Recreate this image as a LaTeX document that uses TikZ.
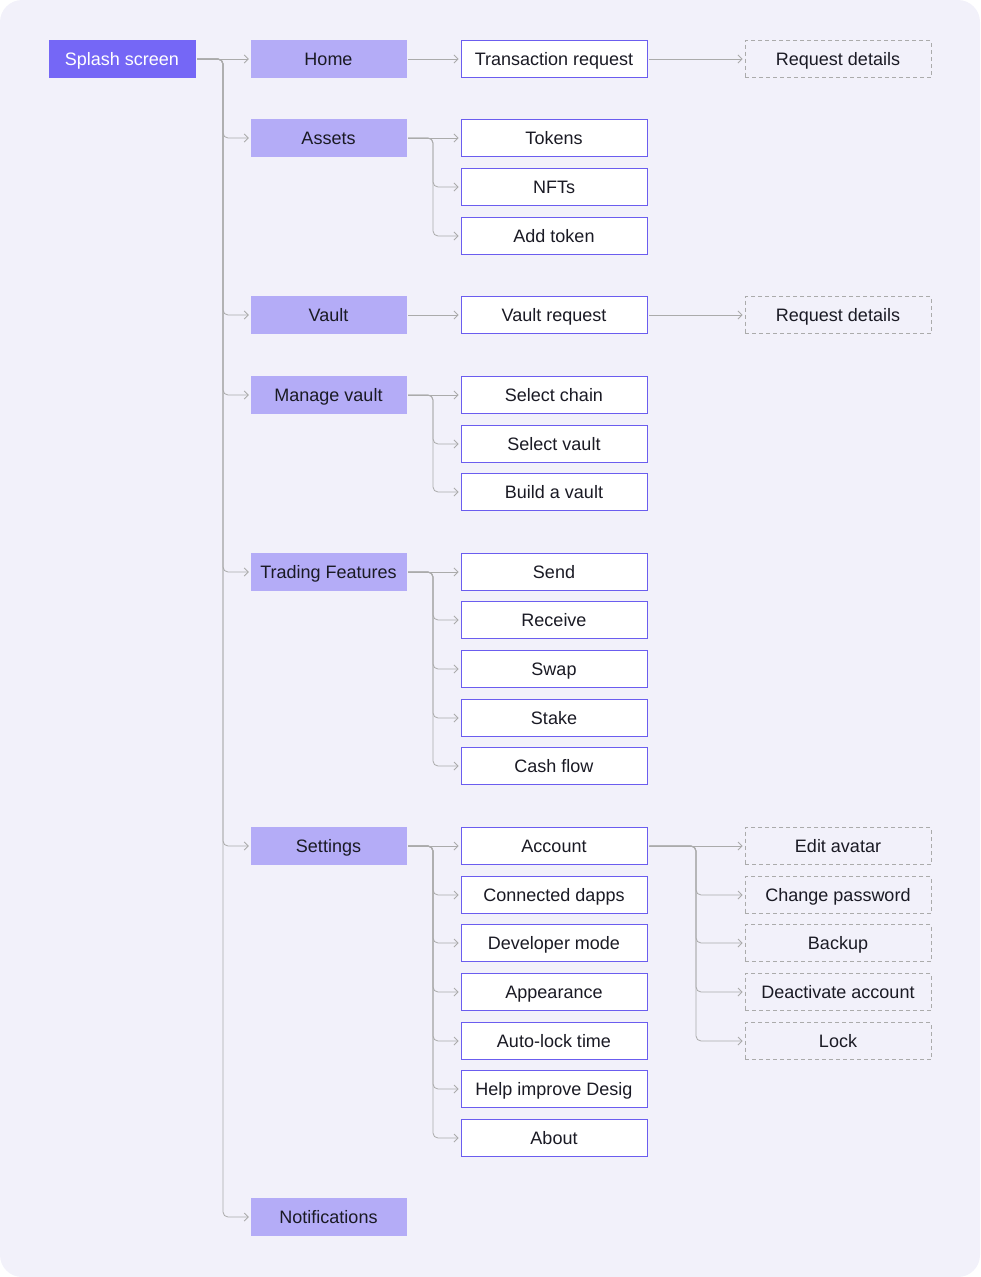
\documentclass[tikz,border=0pt]{standalone}
\usepackage{fontspec}
\setmainfont{Liberation Sans}
\usetikzlibrary{arrows.meta}
\definecolor{bg}{HTML}{F2F1FA}
\definecolor{splash}{HTML}{7567F6}
\definecolor{lone}{HTML}{B4ACF7}
\definecolor{bord}{HTML}{6B5DEF}
\definecolor{gline}{HTML}{ABABAB}
\definecolor{txt}{HTML}{1A1A24}
\begin{document}
\begin{tikzpicture}[x=1pt,y=-1pt,
  base/.style={minimum height=37pt,inner sep=0pt,text height=13pt,text depth=0pt,font=\fontsize{18}{21}\selectfont,text=txt},
  splashbox/.style={base,fill=splash,draw=splash,text=white,minimum width=146pt},
  onebox/.style={base,fill=lone,draw=lone,minimum width=155pt},
  twobox/.style={base,fill=white,draw=bord,line width=0.9pt,minimum width=186pt},
  threebox/.style={base,fill=bg,draw=gline,dash pattern=on 4pt off 3pt,line width=0.9pt,minimum width=186pt},
  conn/.style={draw=gline,line width=0.8pt,rounded corners=5pt,-{Straight Barb[length=4pt,width=8pt]},shorten >=2pt,shorten <=2pt}]
\useasboundingbox (0,0) rectangle (980,1277);
\fill[bg,rounded corners=22pt] (0,0) rectangle (980,1277);

\node[splashbox] (s) at (122,59) {Splash screen};
\foreach \n/\y/\t in {home/59/Home,assets/138/Assets,vault/315/Vault,manage/395/Manage vault,trading/572/Trading Features,settings/846/Settings,notif/1217/Notifications}{
  \node[onebox] (\n) at (328.5,\y) {\t};
  \ifnum\y=59\relax\draw[conn] (s.east) -- (\n.west);\else\draw[conn] (s.east) -- (223,59) |- (\n.west);\fi
}
\node[twobox] (tr) at (554,59) {Transaction request};
\draw[conn] (home.east) -- (tr.west);
\node[threebox] (rd1) at (838,59) {Request details};
\draw[conn] (tr.east) -- (rd1.west);
\node[twobox] (vr) at (554,315) {Vault request};
\draw[conn] (vault.east) -- (vr.west);
\node[threebox] (rd2) at (838,315) {Request details};
\draw[conn] (vr.east) -- (rd2.west);

\foreach \n/\y/\t in {tok/138/Tokens,nft/187/NFTs,add/236/Add token}{
  \node[twobox] (\n) at (554,\y) {\t};
  \ifnum\y=138\relax\draw[conn] (assets.east) -- (\n.west);\else\draw[conn] (assets.east) -- (433,138) |- (\n.west);\fi
}
\foreach \n/\y/\t in {sc/395/Select chain,sv/444/Select vault,bv/492/Build a vault}{
  \node[twobox] (\n) at (554,\y) {\t};
  \ifnum\y=395\relax\draw[conn] (manage.east) -- (\n.west);\else\draw[conn] (manage.east) -- (433,395) |- (\n.west);\fi
}
\foreach \n/\y/\t in {send/572/Send,recv/620/Receive,swap/669/Swap,stake/718/Stake,cash/766/Cash flow}{
  \node[twobox] (\n) at (554,\y) {\t};
  \ifnum\y=572\relax\draw[conn] (trading.east) -- (\n.west);\else\draw[conn] (trading.east) -- (433,572) |- (\n.west);\fi
}
\foreach \n/\y/\t in {acc/846/Account,cd/895/Connected dapps,dev/943/Developer mode,app/992/Appearance,alt/1041/Auto-lock time,help/1089/Help improve Desig,about/1138/About}{
  \node[twobox] (\n) at (554,\y) {\t};
  \ifnum\y=846\relax\draw[conn] (settings.east) -- (\n.west);\else\draw[conn] (settings.east) -- (433,846) |- (\n.west);\fi
}
\foreach \n/\y/\t in {ea/846/Edit avatar,cp/895/Change password,bk/943/Backup,da/992/Deactivate account,lk/1041/Lock}{
  \node[threebox] (\n) at (838,\y) {\t};
  \ifnum\y=846\relax\draw[conn] (acc.east) -- (\n.west);\else\draw[conn] (acc.east) -- (696,846) |- (\n.west);\fi
}
\end{tikzpicture}
\end{document}
